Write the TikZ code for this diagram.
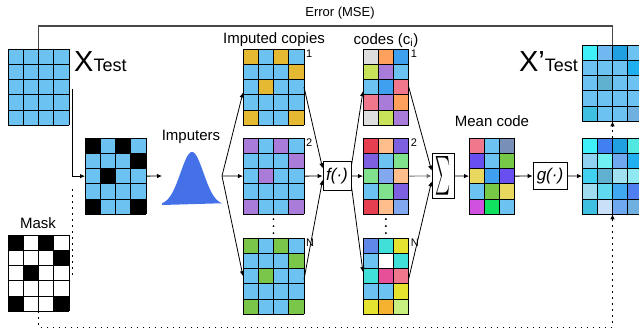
\documentclass[tikz,border=0pt]{standalone}
\usepackage{graphicx}
\usepackage{fontspec}
\setmainfont{Liberation Sans}
\usepackage{tikz}
\usetikzlibrary{
  arrows.meta,
  positioning,
  calc
}
\definecolor{cellblue}{RGB}{108, 194, 240}
\definecolor{impyellow}{RGB}{230, 185, 50}
\definecolor{imppurple}{RGB}{168, 124, 216}
\definecolor{impgreen}{RGB}{122, 198, 72}
\definecolor{cgray}{RGB}{222, 222, 222}
\definecolor{corange}{RGB}{255, 160, 92}
\definecolor{cblue}{RGB}{64, 160, 240}
\definecolor{clime}{RGB}{200, 226, 90}
\definecolor{cpink}{RGB}{240, 120, 140}
\definecolor{cred}{RGB}{230, 64, 80}
\definecolor{cpeach}{RGB}{255, 190, 140}
\definecolor{cviolet}{RGB}{124, 96, 224}
\definecolor{cmint}{RGB}{128, 226, 140}
\definecolor{cperi}{RGB}{130, 168, 240}
\definecolor{croyal}{RGB}{96, 136, 232}
\definecolor{cturq}{RGB}{64, 224, 216}
\definecolor{cyellow}{RGB}{230, 226, 48}
\definecolor{cmagenta}{RGB}{230, 80, 152}
\definecolor{camber}{RGB}{244, 178, 48}
\definecolor{clightlime}{RGB}{200, 240, 128}
\definecolor{mslate}{RGB}{120, 144, 184}
\definecolor{mviolet}{RGB}{104, 80, 240}
\definecolor{mgreen}{RGB}{120, 200, 72}
\definecolor{myellow}{RGB}{232, 216, 96}
\definecolor{mmagenta}{RGB}{208, 80, 224}
\definecolor{mbright}{RGB}{16, 226, 96}
\definecolor{oa}{RGB}{64, 240, 248}
\definecolor{ob}{RGB}{112, 184, 240}
\definecolor{oc}{RGB}{32, 160, 224}
\definecolor{od}{RGB}{32, 176, 240}
\definecolor{oe}{RGB}{96, 176, 208}
\definecolor{of}{RGB}{64, 192, 224}
\definecolor{og}{RGB}{112, 176, 224}
\definecolor{ra}{RGB}{64, 128, 240}
\definecolor{rb}{RGB}{80, 232, 224}
\definecolor{rc}{RGB}{144, 208, 240}
\definecolor{rd}{RGB}{112, 240, 240}
\definecolor{re}{RGB}{112, 168, 240}
\definecolor{rf}{RGB}{64, 208, 240}
\definecolor{rg}{RGB}{160, 224, 240}
\definecolor{rh}{RGB}{144, 232, 240}
\definecolor{ri}{RGB}{160, 220, 240}
\definecolor{rj}{RGB}{96, 216, 240}
\definecolor{rk}{RGB}{64, 168, 240}
\definecolor{rl}{RGB}{80, 128, 240}
\definecolor{rm}{RGB}{200, 224, 248}
\definecolor{bellblue}{RGB}{68, 112, 232}
\definecolor{errcolor}{RGB}{72, 72, 72}
\definecolor{sidearrow}{RGB}{110, 110, 110}
\tikzset{
labeltext/.style={
  font=\fontsize{15}{18}\selectfont,
  inner sep=0pt,
  anchor=base
},
bigtext/.style={
  font=\fontsize{29}{30}\selectfont,
  inner sep=0pt
},
indextext/.style={
  font=\fontsize{11}{12}\selectfont,
  inner sep=0pt,
  anchor=north west
},
gridline/.style={
  draw=black,
  line width=0.9pt
},
gridbox/.style={
  draw=none,
  inner sep=0pt,
  outer sep=0pt
},
opbox/.style={
  draw,
  line width=0.8pt,
  inner sep=0pt,
  font=\fontsize{17}{18}\selectfont\itshape
},
arrow/.style={
  -{Latex[length=5pt,width=4.5pt]},
  line width=0.8pt
},
dotline/.style={
  line width=0.9pt,
  dash pattern=on 1.8pt off 4.2pt
},
dottedarrow/.style={
  dotline,
  -{Latex[length=5pt,width=4.5pt]}
},
errline/.style={
  draw=errcolor,
  line width=1.3pt
}
}
\newcommand{\cellgrid}[5]{%
  \foreach \cellcol [count=\k from 0] in {#5} {
    \pgfmathtruncatemacro{\colidx}{mod(\k,#4)}
    \pgfmathtruncatemacro{\rowidx}{div(\k,#4)}
    \fill[\cellcol] ({#2+\colidx*15.25},{#3+\rowidx*15.25}) rectangle ++(15.25,15.25);
  }
  \foreach \colidx in {0,...,#4}
    \draw[gridline] ({#2+\colidx*15.25},#3) -- ++(0,76.25);
  \foreach \rowidx in {0,...,5}
    \draw[gridline] (#2,{#3+\rowidx*15.25}) -- ++({#4*15.25},0);
  \node[gridbox, minimum width={#4*15.25pt}, minimum height=76.25pt]
    (#1) at ({#2+#4*7.625},{#3+38.125}) {};
}
\newcommand{\stackdots}[1]{%
  \foreach \dy in {-7,0,7}
    \fill ($(#1)+(0,\dy)$) circle (1.1pt);
}

\begin{document}
\begin{tikzpicture}[x=1pt, y=-1pt]
  \useasboundingbox (0,0) rectangle (639,333);

  % input, mask and masked input
  \cellgrid{xtest}{8}{49}{4}{cellblue,cellblue,cellblue,cellblue,cellblue,cellblue,cellblue,cellblue,cellblue,cellblue,cellblue,cellblue,cellblue,cellblue,cellblue,cellblue,cellblue,cellblue,cellblue,cellblue}
  \cellgrid{mask}{8}{235}{4}{black,white,black,white,white,white,white,black,white,black,white,white,white,white,white,white,black,white,white,black}
  \cellgrid{masked}{85}{138}{4}{black,cellblue,black,cellblue,cellblue,cellblue,cellblue,black,cellblue,black,cellblue,cellblue,cellblue,cellblue,cellblue,cellblue,black,cellblue,cellblue,black}

  \node[bigtext, anchor=base west] (xtestlbl) at (74,71)
    {X\fontsize{18}{18}\selectfont Test};
  \node[labeltext] (masklbl) at (38,228) {Mask};

  % imputers
  \fill[bellblue] (162,205) -- plot[domain=-30:30, samples=80]
    ({192+\x}, {205-53*exp(-(\x*\x)/(2*11.5*11.5))}) -- cycle;
  \node[gridbox, minimum width=60pt, minimum height=53pt] (imp) at (192,176) {};
  \node[labeltext] (implbl) at (191,140) {Imputers};

  % imputed copies
  \cellgrid{copya}{243}{49}{4}{impyellow,cellblue,impyellow,cellblue,cellblue,cellblue,cellblue,impyellow,cellblue,impyellow,cellblue,cellblue,cellblue,cellblue,cellblue,cellblue,impyellow,cellblue,cellblue,impyellow}
  \cellgrid{copyb}{243}{138}{4}{imppurple,cellblue,imppurple,cellblue,cellblue,cellblue,cellblue,imppurple,cellblue,imppurple,cellblue,cellblue,cellblue,cellblue,cellblue,cellblue,imppurple,cellblue,cellblue,imppurple}
  \cellgrid{copyn}{243}{238}{4}{impgreen,cellblue,impgreen,cellblue,cellblue,cellblue,cellblue,impgreen,cellblue,impgreen,cellblue,cellblue,cellblue,cellblue,cellblue,cellblue,impgreen,cellblue,cellblue,impgreen}
  \node[labeltext] (copylbl) at (274,43) {Imputed copies};
  \node[indextext] at ($(copya.north east)+(2,1)$) {1};
  \node[indextext] at ($(copyb.north east)+(2,1)$) {2};
  \node[indextext] at ($(copyn.north east)+(2,1)$) {N};
  \coordinate (copydots) at ($(copyb.south)!0.5!(copyn.north)$);
  \stackdots{copydots}

  % encoder
  \node[opbox, minimum width=28pt, minimum height=29pt] (f) at (337,176) {f(·)};

  % codes
  \cellgrid{codea}{363}{49}{3}{cgray,corange,cblue,clime,imppurple,cellblue,cellblue,cblue,cpink,cpink,imppurple,corange,cgray,clime,imppurple}
  \cellgrid{codeb}{363}{138}{3}{cred,cpeach,cviolet,cviolet,cellblue,cmint,cmint,cperi,cpeach,cellblue,cmint,cviolet,cred,cpeach,cperi}
  \cellgrid{coden}{363}{238}{3}{croyal,cturq,cyellow,cellblue,white,cturq,cturq,cmagenta,cpink,cellblue,cellblue,cyellow,cyellow,camber,clightlime}
  \node[labeltext] (codelbl) at (386,44) {codes (c\textsubscript{i})};
  \node[indextext] at ($(codea.north east)+(2,1)$) {1};
  \node[indextext] at ($(codeb.north east)+(2,1)$) {2};
  \node[indextext] at ($(coden.north east)+(2,1)$) {N};
  \coordinate (codedots) at ($(codeb.south)!0.5!(coden.north)$);
  \stackdots{codedots}

  % mean and decoder
  \node[opbox, minimum width=22pt, minimum height=45pt] (sum) at (443,176)
    {\resizebox{15pt}{36pt}{$\sum$}};
  \cellgrid{mean}{469}{138}{3}{cpink,cellblue,mslate,mviolet,cellblue,mgreen,myellow,cblue,mviolet,cellblue,mgreen,myellow,mmagenta,mbright,cellblue}
  \node[labeltext] (meanlbl) at (492,126) {Mean code};
  \node[opbox, minimum width=34pt, minimum height=27pt] (g) at (550,176) {g(·)};

  % outputs
  \cellgrid{xout}{582}{45}{4}{oa,ob,oc,cellblue,cellblue,cellblue,cellblue,od,cellblue,oe,cellblue,cellblue,cellblue,cellblue,cellblue,cellblue,of,cellblue,cellblue,og}
  \cellgrid{xrec}{582}{138}{4}{oa,ra,oc,rb,rc,rd,re,od,rf,oe,rg,rh,ri,rj,rk,rl,of,rm,re,og}
  \node[bigtext, anchor=base east] (xoutlbl) at (578,71)
    {X’\fontsize{18}{18}\selectfont Test};

  % error
  \draw[errline] (xtest.north) -- ++(0,-23) -| (xout.north);
  \node[font=\fontsize{13}{14}\selectfont, inner sep=0pt, anchor=base] (errlbl) at (340,16) {Error (MSE)};

  % connectors
  \coordinate (xtap) at (72,89);
  \coordinate (masktap) at (72,275);
  \coordinate (maskjoin) at (72,188);
  \draw[arrow] (xtap) |- (masked.west);
  \draw[dotline] (masktap) -- (maskjoin);
  \draw[dottedarrow] (mask.south) -- ++(0,16) -| (xrec.south);
  \draw[arrow] (masked.east) -- (imp.west);
  \draw[arrow] (imp.east) -- (copya.190);
  \draw[arrow] (imp.east) -- (copyb.west);
  \draw[arrow] (imp.east) -- (copyn.west);
  \draw[arrow] (copya.east) -- (f.152);
  \draw[arrow] (copyb.east) -- (f.west);
  \draw[arrow] (copyn.-6) -- (f.195);
  \draw[arrow] (f.35) -- (codea.190);
  \draw[arrow] (f.east) -- (codeb.west);
  \draw[arrow] (f.-35) -- (coden.170);
  \draw[arrow] (codea.east) -- (sum.155);
  \draw[arrow, draw=sidearrow] (codeb.east) -- (sum.west);
  \draw[arrow] (coden.-6) -- (sum.205);
  \draw[arrow] (sum.east) -- (mean.west);
  \draw[arrow] (mean.east) -- (g.west);
  \draw[arrow] (g.east) -- (xrec.west);
  \draw[dottedarrow] (xrec.north) -- (xout.south);
\end{tikzpicture}
\end{document}
